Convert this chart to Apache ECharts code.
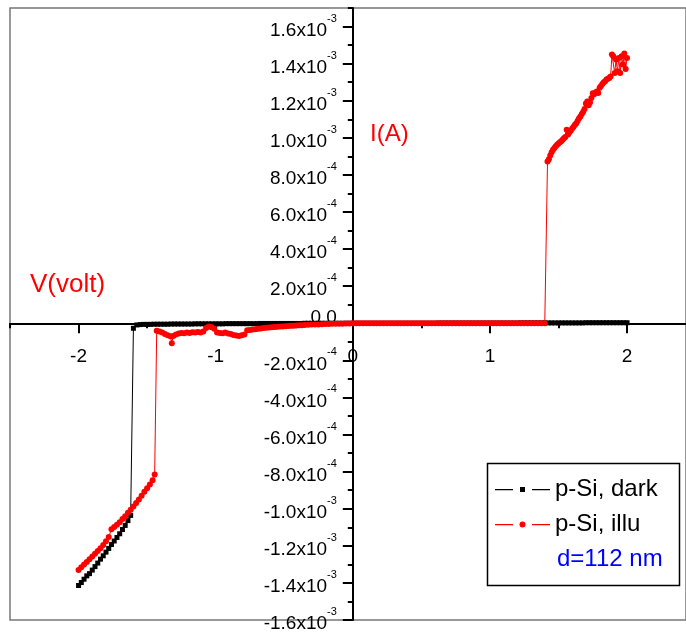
<!DOCTYPE html>
<html>
<head>
<meta charset="utf-8">
<script src="https://cdn.jsdelivr.net/npm/echarts@6/dist/echarts.min.js"></script>
<style>
  html, body { margin: 0; padding: 0; background: #fff; }
  #chart { width: 686px; height: 633px; }
</style>
</head>
<body>
<div id="chart"></div>
<script>
// I-V sweeps of the p-Si sample: voltage in V, current in mA (10^-3 A)
const darkIV = [
  [-2.00,-1.414],[-1.98,-1.398],[-1.96,-1.380],[-1.94,-1.362],[-1.92,-1.350],[-1.90,-1.331],
  [-1.88,-1.312],[-1.86,-1.293],[-1.84,-1.272],[-1.82,-1.254],[-1.80,-1.234],[-1.78,-1.214],
  [-1.76,-1.193],[-1.74,-1.174],[-1.72,-1.155],[-1.70,-1.135],[-1.68,-1.112],[-1.66,-1.090],
  [-1.64,-1.064],[-1.62,-1.036],
  [-1.600,-0.027],[-1.575,-0.009],[-1.550,-0.007],[-1.525,-0.006],[-1.500,-0.006],[-1.475,-0.006],
  [-1.450,-0.005],[-1.425,-0.005],[-1.400,-0.005],[-1.375,-0.005],[-1.350,-0.005],[-1.325,-0.004],
  [-1.300,-0.004],[-1.275,-0.004],[-1.250,-0.004],[-1.225,-0.004],[-1.200,-0.004],[-1.175,-0.004],
  [-1.150,-0.003],[-1.125,-0.003],[-1.100,-0.003],[-1.075,-0.003],[-1.050,-0.003],[-1.025,-0.003],
  [-1.000,-0.003],[-0.975,-0.003],[-0.950,-0.003],[-0.925,-0.002],[-0.900,-0.002],[-0.875,-0.002],
  [-0.850,-0.002],[-0.825,-0.002],[-0.800,-0.002],[-0.775,-0.002],[-0.750,-0.002],[-0.725,-0.002],
  [-0.700,-0.002],[-0.675,-0.001],[-0.650,-0.001],[-0.625,-0.001],[-0.600,-0.001],[-0.575,-0.001],
  [-0.550,-0.001],[-0.525,-0.001],[-0.500,-0.001],[-0.475,-0.001],[-0.450,-0.001],[-0.425,-0.001],
  [-0.400,-0.001],[-0.375,-0.001],[-0.350,0.000],[-0.325,0.000],[-0.300,0.000],[-0.275,0.000],
  [-0.250,0.000],[-0.225,0.000],[-0.200,0.000],[-0.175,0.000],[-0.150,0.000],[-0.125,0.000],
  [-0.100,0.000],[-0.075,0.000],[-0.050,0.000],[-0.025,0.000],[0.000,0.000],[0.025,0.000],
  [0.050,0.000],[0.075,0.000],[0.100,0.000],[0.125,0.000],[0.150,0.000],[0.175,0.000],
  [0.200,0.000],[0.225,0.000],[0.250,0.000],[0.275,0.000],[0.300,0.000],[0.325,0.000],
  [0.350,0.000],[0.375,0.000],[0.400,0.000],[0.425,0.000],[0.450,0.000],[0.475,0.000],
  [0.500,0.000],[0.525,0.000],[0.550,0.000],[0.575,0.000],[0.600,0.000],[0.625,0.001],
  [0.650,0.001],[0.675,0.001],[0.700,0.001],[0.725,0.001],[0.750,0.001],[0.775,0.001],
  [0.800,0.001],[0.825,0.001],[0.850,0.001],[0.875,0.001],[0.900,0.001],[0.925,0.001],
  [0.950,0.001],[0.975,0.001],[1.000,0.001],[1.025,0.001],[1.050,0.001],[1.075,0.001],
  [1.100,0.001],[1.125,0.001],[1.150,0.001],[1.175,0.001],[1.200,0.001],[1.225,0.002],
  [1.250,0.002],[1.275,0.002],[1.300,0.002],[1.325,0.002],[1.350,0.002],[1.375,0.002],
  [1.400,0.002],[1.425,0.002],[1.450,0.002],[1.475,0.002],[1.500,0.002],[1.525,0.002],
  [1.550,0.002],[1.575,0.002],[1.600,0.002],[1.625,0.002],[1.650,0.002],[1.675,0.002],
  [1.700,0.003],[1.725,0.003],[1.750,0.003],[1.775,0.003],[1.800,0.003],[1.825,0.003],
  [1.850,0.003],[1.875,0.003],[1.900,0.003],[1.925,0.003],[1.950,0.003],[1.975,0.003],
  [2.000,0.003]
];

const illuIV = [
  [-2.00,-1.330],[-1.98,-1.316],[-1.96,-1.301],[-1.94,-1.287],[-1.92,-1.272],[-1.90,-1.257],
  [-1.88,-1.243],[-1.86,-1.228],[-1.84,-1.213],[-1.82,-1.196],[-1.80,-1.175],[-1.78,-1.152],
  [-1.76,-1.110],[-1.74,-1.098],[-1.72,-1.086],[-1.70,-1.073],[-1.68,-1.056],[-1.66,-1.040],
  [-1.64,-1.022],[-1.62,-1.005],[-1.60,-0.988],[-1.58,-0.969],[-1.56,-0.950],[-1.54,-0.930],
  [-1.52,-0.909],[-1.50,-0.890],[-1.48,-0.870],[-1.46,-0.846],[-1.445,-0.816],
  [-1.43,-0.040],[-1.41,-0.045],[-1.39,-0.050],[-1.37,-0.058],[-1.35,-0.065],[-1.33,-0.070],
  [-1.32,-0.108],[-1.31,-0.068],[-1.29,-0.060],[-1.27,-0.055],[-1.25,-0.052],[-1.23,-0.054],
  [-1.21,-0.050],[-1.19,-0.052],[-1.17,-0.048],[-1.15,-0.050],[-1.13,-0.047],[-1.11,-0.050],
  [-1.09,-0.045],[-1.07,-0.025],[-1.05,-0.018],[-1.03,-0.022],[-1.01,-0.030],[-0.99,-0.050],
  [-0.97,-0.052],[-0.95,-0.054],[-0.93,-0.050],[-0.91,-0.055],[-0.89,-0.058],[-0.87,-0.063],
  [-0.85,-0.066],[-0.83,-0.068],[-0.81,-0.065],[-0.79,-0.060],[-0.77,-0.038],[-0.75,-0.036],
  [-0.73,-0.034],[-0.71,-0.032],[-0.69,-0.030],[-0.67,-0.028],[-0.65,-0.026],[-0.63,-0.024],
  [-0.61,-0.023],[-0.59,-0.021],[-0.57,-0.020],[-0.55,-0.019],[-0.53,-0.018],[-0.51,-0.017],
  [-0.49,-0.016],[-0.47,-0.015],[-0.45,-0.014],[-0.43,-0.013],[-0.41,-0.012],[-0.39,-0.011],
  [-0.37,-0.010],[-0.35,-0.009],[-0.325,-0.008],[-0.300,-0.007],[-0.275,-0.006],[-0.250,-0.006],
  [-0.225,-0.005],[-0.200,-0.004],[-0.175,-0.004],[-0.150,-0.003],[-0.125,-0.003],[-0.100,-0.002],
  [-0.075,-0.002],[-0.050,-0.001],[-0.025,-0.001],
  [0.000,0.000],[0.025,0.000],[0.050,0.000],[0.075,0.000],[0.100,0.000],[0.125,0.000],
  [0.150,0.000],[0.175,0.000],[0.200,0.000],[0.225,0.000],[0.250,0.000],[0.275,0.000],
  [0.300,0.000],[0.325,0.000],[0.350,0.000],[0.375,0.000],[0.400,0.000],[0.425,0.000],
  [0.450,0.000],[0.475,0.000],[0.500,0.000],[0.525,0.000],[0.550,0.000],[0.575,0.000],
  [0.600,0.000],[0.625,0.000],[0.650,0.000],[0.675,0.000],[0.700,0.000],[0.725,0.000],
  [0.750,0.000],[0.775,0.000],[0.800,0.000],[0.825,0.000],[0.850,0.000],[0.875,0.000],
  [0.900,0.000],[0.925,0.000],[0.950,0.000],[0.975,0.000],[1.000,0.000],[1.025,0.000],
  [1.050,0.000],[1.075,0.000],[1.100,0.000],[1.125,0.000],[1.150,0.000],[1.175,0.000],
  [1.200,0.000],[1.225,0.000],[1.250,0.000],[1.275,0.000],[1.300,0.000],[1.325,0.000],
  [1.350,0.000],[1.375,0.000],[1.400,0.000],
  [1.42,0.872],[1.43,0.885],[1.44,0.905],[1.45,0.922],[1.46,0.935],[1.47,0.945],
  [1.48,0.955],[1.49,0.963],[1.50,0.970],[1.51,0.976],[1.52,0.982],[1.53,0.990],
  [1.54,0.998],[1.55,1.005],[1.56,1.043],[1.57,1.018],[1.58,1.030],[1.59,1.040],
  [1.60,1.050],[1.61,1.060],[1.62,1.070],[1.63,1.079],[1.64,1.092],[1.65,1.105],
  [1.66,1.115],[1.67,1.128],[1.68,1.140],[1.69,1.155],[1.70,1.185],[1.71,1.196],
  [1.72,1.175],[1.73,1.190],[1.74,1.215],[1.75,1.240],[1.76,1.235],[1.77,1.245],
  [1.78,1.250],[1.79,1.241],[1.80,1.270],[1.81,1.280],[1.82,1.290],[1.83,1.300],
  [1.84,1.305],[1.85,1.314],[1.86,1.318],[1.87,1.323],[1.88,1.330],[1.89,1.449],
  [1.90,1.440],[1.91,1.350],[1.92,1.422],[1.93,1.359],[1.94,1.430],[1.95,1.350],
  [1.96,1.440],[1.97,1.395],[1.98,1.454],[1.99,1.371],[2.00,1.431]
];

// Axis ticks and labels
const xMajorTicks = [-2, -1, 0, 1, 2];
const xMinorTicks = [-2.5, -1.5, -0.5, 0.5, 1.5];
const yMajorTicks = [-1.6e-3, -1.4e-3, -1.2e-3, -1.0e-3, -8.0e-4, -6.0e-4, -4.0e-4, -2.0e-4, 0,
                     2.0e-4, 4.0e-4, 6.0e-4, 8.0e-4, 1.0e-3, 1.2e-3, 1.4e-3, 1.6e-3];
const yMantissa = ['-1.6', '-1.4', '-1.2', '-1.0', '-8.0', '-6.0', '-4.0', '-2.0', '0.0',
                   '2.0', '4.0', '6.0', '8.0', '1.0', '1.2', '1.4', '1.6'];
const yExponent = ['-3', '-3', '-3', '-3', '-4', '-4', '-4', '-4', '',
                   '-4', '-4', '-4', '-4', '-3', '-3', '-3', '-3'];
const yMinorTicks = [-1.5e-3, -1.3e-3, -1.1e-3, -9e-4, -7e-4, -5e-4, -3e-4, -1e-4,
                     1e-4, 3e-4, 5e-4, 7e-4, 9e-4, 1.1e-3, 1.3e-3, 1.5e-3, 1.7e-3];

const seriesNames = ['p-Si, dark', 'p-Si, illu'];
const FONT = '"Liberation Sans", Arial, sans-serif';

// Plot frame and the axis ranges; the axes cross at the origin
const GRID = { left: 10, right: 0, top: 8, bottom: 13 };
const X_RANGE = [-2.5, 2.43];
const Y_RANGE = [-1.6e-3, 1.7e-3];
const plotW = 686 - GRID.left - GRID.right;
const plotH = 633 - GRID.top - GRID.bottom;
// distance from the frame edge to the zero line, used to pull each axis in to the origin
const yAxisShift = -plotW * (0 - X_RANGE[0]) / (X_RANGE[1] - X_RANGE[0]);
const xAxisShift = -plotH * (0 - Y_RANGE[0]) / (Y_RANGE[1] - Y_RANGE[0]);

const toAmps = pts => pts.map(p => [p[0], p[1] * 1e-3]);

function yLabel(value) {
  for (let k = 0; k < yMajorTicks.length; k++) {
    if (Math.abs(yMajorTicks[k] - value) < 1e-9) {
      if (!yExponent[k]) return '{z|' + yMantissa[k] + '}';
      return '{m|' + yMantissa[k] + 'x10}{e|' + yExponent[k] + '}';
    }
  }
  return '';
}

const axisColor = '#000';
const chart = echarts.init(document.getElementById('chart'), null, { renderer: 'canvas' });

chart.setOption({
  animation: false,
  backgroundColor: '#fff',
  grid: Object.assign({}, GRID, {
    outerBoundsMode: 'none',
    show: true, borderColor: '#777', borderWidth: 1.5, backgroundColor: 'transparent'
  }),
  xAxis: [{
    type: 'value', min: X_RANGE[0], max: X_RANGE[1], interval: 0.5, position: 'bottom',
    offset: xAxisShift,
    axisLine: { onZero: false, lineStyle: { color: axisColor, width: 2 } },
    axisTick: { customValues: xMajorTicks, length: 10, lineStyle: { color: axisColor, width: 2 } },
    axisLabel: {
      customValues: xMajorTicks, margin: 24, fontSize: 19, fontFamily: FONT, color: '#000',
      formatter: v => String(v)
    },
    splitLine: { show: false }
  }, {
    type: 'value', min: X_RANGE[0], max: X_RANGE[1], interval: 0.5, position: 'bottom',
    offset: xAxisShift,
    axisLine: { onZero: false, show: false },
    axisTick: { customValues: xMinorTicks, length: 5, lineStyle: { color: axisColor, width: 2 } },
    axisLabel: { show: false },
    splitLine: { show: false }
  }],
  yAxis: [{
    type: 'value', min: Y_RANGE[0], max: Y_RANGE[1], interval: 1e-4, position: 'left',
    offset: yAxisShift,
    axisLine: { onZero: false, lineStyle: { color: axisColor, width: 2 } },
    axisTick: { customValues: yMajorTicks, length: 10, lineStyle: { color: axisColor, width: 2 } },
    axisLabel: {
      customValues: yMajorTicks, margin: 16, color: '#000', fontFamily: FONT,
      formatter: yLabel,
      rich: {
        m: { fontSize: 19, fontFamily: FONT, color: '#000', padding: [8, 0, 0, 0], verticalAlign: 'bottom' },
        e: { fontSize: 11, fontFamily: FONT, color: '#000', verticalAlign: 'top' },
        z: { fontSize: 19, fontFamily: FONT, color: '#000', padding: [0, 0, 12, 0] }
      }
    },
    splitLine: { show: false }
  }, {
    type: 'value', min: Y_RANGE[0], max: Y_RANGE[1], interval: 1e-4, position: 'left',
    offset: yAxisShift,
    axisLine: { onZero: false, show: false },
    axisTick: { customValues: yMinorTicks, length: 5, lineStyle: { color: axisColor, width: 2 } },
    axisLabel: { show: false },
    splitLine: { show: false }
  }],
  legend: {
    orient: 'vertical', left: 495, top: 477, padding: 0,
    itemWidth: 55, itemHeight: 8, itemGap: 10,
    textStyle: { fontSize: 24, lineHeight: 25, fontFamily: FONT, color: '#000' },
    data: [
      { name: seriesNames[0], icon: 'path://M0,3.5h18v1.2h-18z M25,1.5h5v5h-5z M37,3.5h18v1.2h-18z' },
      { name: seriesNames[1], icon: 'path://M0,3.5h18v1.2h-18z M24.5,4a3,3 0 1,0 6,0a3,3 0 1,0 -6,0z M37,3.5h18v1.2h-18z' }
    ]
  },
  graphic: [
    { type: 'rect', shape: { x: 487.5, y: 463.5, width: 192, height: 122 },
      style: { fill: 'transparent', stroke: '#000', lineWidth: 1.5 }, z: 10 },
    { type: 'text', x: 557, y: 559,
      style: { text: 'd=112 nm', font: '24px ' + FONT, fill: '#0000ff', verticalAlign: 'middle' }, z: 10 },
    { type: 'text', x: 370, y: 134,
      style: { text: 'I(A)', font: '24px ' + FONT, fill: '#ff0000', verticalAlign: 'middle' }, z: 10 },
    { type: 'text', x: 30, y: 285,
      style: { text: 'V(volt)', font: '26px ' + FONT, fill: '#ff0000', verticalAlign: 'middle' }, z: 10 }
  ],
  series: [{
    type: 'line', name: seriesNames[0], data: toAmps(darkIV),
    xAxisIndex: 0, yAxisIndex: 0,
    symbol: 'rect', symbolSize: 5,
    lineStyle: { color: '#000', width: 1 },
    itemStyle: { color: '#000' }
  }, {
    type: 'line', name: seriesNames[1], data: toAmps(illuIV),
    xAxisIndex: 0, yAxisIndex: 0,
    symbol: 'circle', symbolSize: 6,
    lineStyle: { color: '#ff0000', width: 1 },
    itemStyle: { color: '#ff0000' }
  }]
});
</script>
</body>
</html>
